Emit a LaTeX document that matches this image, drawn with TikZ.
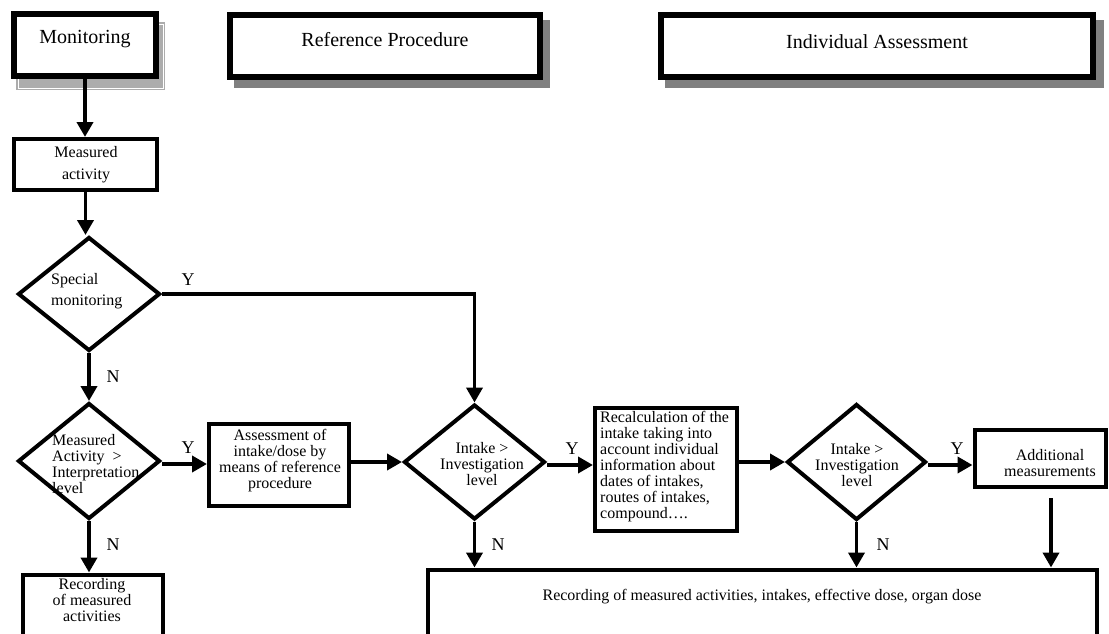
\documentclass[tikz,border=0pt]{standalone}
\usepackage{fontspec}
\setmainfont{Liberation Serif}
\usetikzlibrary{shapes.geometric,arrows.meta}
\begin{document}
\begin{tikzpicture}[x=1pt,y=-1pt,
  hdr/.style={draw,line width=6pt,fill=white,inner sep=0pt,rectangle},
  box/.style={draw,line width=4pt,fill=white,inner sep=0pt,rectangle},
  dec/.style={draw,line width=4pt,diamond,fill=white,inner sep=0pt},
  arr/.style={line width=3.8pt,-{Triangle[width=16pt,length=15pt]}},
  lbl/.style={font=\fontsize{16}{16}\selectfont,inner sep=0pt,align=center},
  big/.style={font=\fontsize{20}{20}\selectfont,inner sep=0pt},
  yn/.style={font=\fontsize{18}{18}\selectfont,inner sep=0pt},
  shd/.style={fill=gray}
]
\path[use as bounding box,clip] (0,0) rectangle (1109,633);
\fill[white] (0,0) rectangle (1109,633);
% shadows
\fill[gray!65] (16,22) rectangle (165,90);
\draw[white,line width=0.8pt] (18,24) rectangle (163,88);
\fill[shd] (234,20) rectangle (550,88);
\fill[shd] (665,20) rectangle (1104,88);
% headers
\node[hdr,minimum width=142pt,minimum height=62pt] (mon) at (85,45) {};
\node[big] (tmon) at (85,39) {Monitoring};
\node[hdr,minimum width=310pt,minimum height=62pt] (ref) at (385,46) {};
\node[big] (tref) at (385,40) {Reference Procedure};
\node[hdr,minimum width=432pt,minimum height=62pt] (ind) at (877,46) {};
\node[big] (tind) at (877,42) {Individual Assessment};
% left column
\node[box,minimum width=143pt,minimum height=51pt] (ma) at (85.5,164.5) {};
\node[lbl,font=\fontsize{16}{22}\selectfont] (tma) at (86,165) {Measured\\activity};
\node[dec,minimum width=142pt,minimum height=114pt] (sm) at (89,294) {};
\node[lbl,align=left,anchor=west,font=\fontsize{16}{21}\selectfont] (tsm) at (51,291) {Special\\monitoring};
\node[dec,minimum width=142pt,minimum height=116pt] (d2) at (89,461) {};
\node[lbl,align=left,anchor=west] (td2) at (52,464.5) {Measured\\Activity\ \ >\\Interpretation\\level};
\node[box,minimum width=140pt,minimum height=82pt] (as) at (279,465) {};
\node[lbl] (tas) at (280,461) {Assessment of\\intake/dose by\\means of reference\\procedure};
\node[box,minimum width=140pt,minimum height=80pt] (rec1) at (92.5,614.5) {};
\node[lbl] (trec1) at (92,600) {Recording\\of measured\\activities};
% middle / right
\node[dec,minimum width=141pt,minimum height=115pt] (i1) at (474.5,462) {};
\node[lbl] (ti1) at (482,464) {Intake >\\Investigation\\level};
\node[box,minimum width=142pt,minimum height=123pt] (rc) at (666,469.5) {};
\node[lbl,align=left,anchor=west] (trc) at (600,467) {Recalculation of the\\intake taking into\\account individual\\information about\\dates of intakes,\\routes of intakes,\\compound\dots.};
\node[dec,minimum width=139pt,minimum height=116pt] (i2) at (856.5,462) {};
\node[lbl] (ti2) at (857,465) {Intake >\\Investigation\\level};
\node[box,minimum width=131pt,minimum height=57pt] (add) at (1040,458) {};
\node[lbl] (tadd) at (1050,463.5) {Additional\\measurements};
\node[box,minimum width=669pt,minimum height=80pt] (bot) at (762.5,609.5) {};
\node[lbl] (tbot) at (762,597) {Recording of measured activities, intakes, effective dose, organ dose};
\coordinate (addout) at (1051,498);
% connectors
\draw[arr] (mon.south) -- (mon.south |- ma.north);
\draw[arr] (ma.south) -- (ma.south |- sm.north);
\draw[arr] (sm.east) -| (i1.north);
\draw[arr] (sm.south) -- (d2.north);
\draw[arr] ([yshift=-3pt]d2.east) -- ([yshift=-3pt]d2.east -| as.west);
\draw[arr] (d2.south) -- (d2.south |- rec1.north);
\draw[arr] (as.east |- i1.west) -- (i1.west);
\draw[arr] ([yshift=-3pt]i1.east) -- ([yshift=-3pt]i1.east -| rc.west);
\draw[arr] (rc.east |- i2.west) -- (i2.west);
\draw[arr] ([yshift=-3pt]i2.east) -- ([yshift=-3pt]i2.east -| add.west);
\draw[arr] (i1.south) -- (i1.south |- bot.north);
\draw[arr] (i2.south) -- (i2.south |- bot.north);
\draw[arr] (addout) -- (addout |- bot.north);
% labels
\node[yn] (y1) at (188,280) {Y};
\node[yn] (n1) at (113,377) {N};
\node[yn] (y2) at (188,448) {Y};
\node[yn] (n2) at (113,545) {N};
\node[yn] (y3) at (572,449) {Y};
\node[yn] (n3) at (498,545) {N};
\node[yn] (y4) at (957,449) {Y};
\node[yn] (n4) at (883,545) {N};
\end{tikzpicture}
\end{document}
